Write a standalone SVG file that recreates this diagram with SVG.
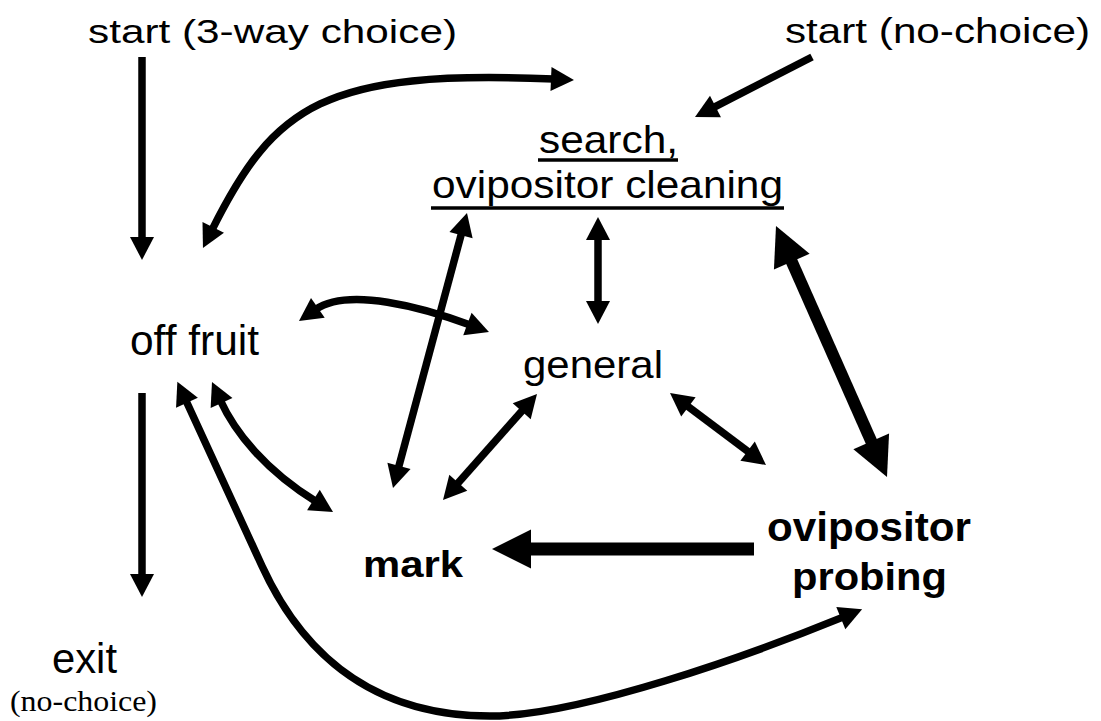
<svg xmlns="http://www.w3.org/2000/svg" width="1101" height="721" viewBox="0 0 1101 721">
<style>
.t{font-family:"Liberation Sans",Arial,sans-serif;fill:#000}
.b{font-weight:bold}
.s{font-family:"Liberation Serif","Times New Roman",serif;fill:#000}
.ul{stroke:#000;stroke-width:3.5}
.c{fill:none;stroke:#000;stroke-width:7.5;marker-end:url(#ah)}
.d{marker-start:url(#ah)}
.k{fill:none;stroke:#000;marker-end:url(#ahk)}
.kd{marker-start:url(#ahk)}
</style>
<defs>
<marker id="ah" markerUnits="userSpaceOnUse" markerWidth="24" markerHeight="24" refX="3" refY="12" orient="auto-start-reverse" overflow="visible"><path d="M0,0 L23,12 L0,24 z" fill="#000"/></marker>
<marker id="ahk" markerUnits="userSpaceOnUse" markerWidth="40" markerHeight="39" refX="5" refY="19.5" orient="auto-start-reverse" overflow="visible"><path d="M0,0 L39,19.5 L0,39 z" fill="#000"/></marker>
</defs>
<rect width="1101" height="721" fill="#fff"/>
<g id="connectors">
<path class="c" d="M142,57 L142,240"/>
<path class="c" d="M812,57 L712.8,107.9"/>
<path class="c d" d="M211.9,230.1 C274.5,104.9 324,69.2 554,79.1"/>
<path class="c d" d="M315.4,309.6 C348.2,286.8 423.2,307.5 470.2,325"/>
<path class="c d" d="M461.8,232.3 L398.2,468.7"/>
<path class="c d" d="M598,237 L598,304"/>
<path class="k kd" stroke-width="12" d="M789.75,257.1 L873.25,445.9"/>
<path class="c d" d="M523.7,409 L456.3,485"/>
<path class="c d" d="M686,405 L750,453"/>
<path class="c d" d="M220.3,400.2 C234.8,432 265,470 316,501.5"/>
<path class="c" d="M142,393 L142,577"/>
<path class="k" stroke-width="13" d="M754,549 L526,549"/>
<path class="c d" d="M185.7,400 L262,566 C290,627 350,716 490,716 C580,716 750,655 843.6,616.9"/>
</g>
<g id="node-start-3way"><text class="t" font-size="34" x="88" y="43" textLength="369" lengthAdjust="spacingAndGlyphs">start (3-way choice)</text></g>
<g id="node-start-nochoice"><text class="t" font-size="35" x="785" y="43" textLength="305" lengthAdjust="spacingAndGlyphs">start (no-choice)</text></g>
<g id="node-search">
<text class="t" font-size="39" x="539" y="153" textLength="139" lengthAdjust="spacingAndGlyphs">search,</text>
<line class="ul" x1="538" y1="160" x2="678" y2="160"/>
<text class="t" font-size="39" x="432" y="198" textLength="351" lengthAdjust="spacingAndGlyphs">ovipositor cleaning</text>
<line class="ul" x1="431" y1="208" x2="784" y2="208"/>
</g>
<g id="node-offfruit"><text class="t" font-size="42" x="130" y="355" textLength="129" lengthAdjust="spacingAndGlyphs">off fruit</text></g>
<g id="node-general"><text class="t" font-size="39" x="523" y="378" textLength="140" lengthAdjust="spacingAndGlyphs">general</text></g>
<g id="node-mark"><text class="t b" font-size="37" x="363" y="577" textLength="100" lengthAdjust="spacingAndGlyphs">mark</text></g>
<g id="node-probing">
<text class="t b" font-size="40" x="767" y="541" textLength="204" lengthAdjust="spacingAndGlyphs">ovipositor</text>
<text class="t b" font-size="39" x="792" y="590" textLength="155" lengthAdjust="spacingAndGlyphs">probing</text>
</g>
<g id="node-exit">
<text class="t" font-size="43" x="52" y="673" textLength="65" lengthAdjust="spacingAndGlyphs">exit</text>
<text class="s" font-size="30" x="10" y="711" textLength="147" lengthAdjust="spacingAndGlyphs">(no-choice)</text>
</g>
</svg>
